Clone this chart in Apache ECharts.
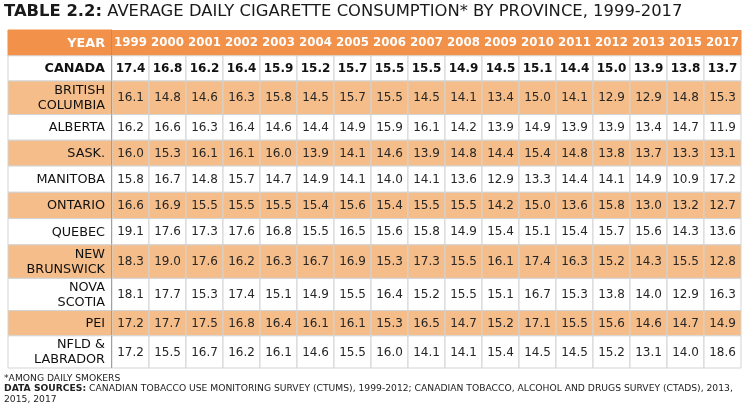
<!DOCTYPE html>
<html><head><meta charset="utf-8">
<script src="https://cdn.jsdelivr.net/npm/echarts@6/dist/echarts.min.js"></script>
<style>html,body{margin:0;padding:0;background:#fff}#c{width:750px;height:406px}</style>
</head><body><div id="c"></div>
<script>
// ---- data ----
const years = ['1999','2000','2001','2002','2003','2004','2005','2006','2007','2008','2009','2010','2011','2012','2013','2015','2017'];
const provinces = ['CANADA','BRITISH\nCOLUMBIA','ALBERTA','SASK.','MANITOBA','ONTARIO','QUEBEC','NEW\nBRUNSWICK','NOVA\nSCOTIA','PEI','NFLD &\nLABRADOR'];
const canada          = [17.4,16.8,16.2,16.4,15.9,15.2,15.7,15.5,15.5,14.9,14.5,15.1,14.4,15.0,13.9,13.8,13.7];
const britishColumbia = [16.1,14.8,14.6,16.3,15.8,14.5,15.7,15.5,14.5,14.1,13.4,15.0,14.1,12.9,12.9,14.8,15.3];
const alberta         = [16.2,16.6,16.3,16.4,14.6,14.4,14.9,15.9,16.1,14.2,13.9,14.9,13.9,13.9,13.4,14.7,11.9];
const saskatchewan    = [16.0,15.3,16.1,16.1,16.0,13.9,14.1,14.6,13.9,14.8,14.4,15.4,14.8,13.8,13.7,13.3,13.1];
const manitoba        = [15.8,16.7,14.8,15.7,14.7,14.9,14.1,14.0,14.1,13.6,12.9,13.3,14.4,14.1,14.9,10.9,17.2];
const ontario         = [16.6,16.9,15.5,15.5,15.5,15.4,15.6,15.4,15.5,15.5,14.2,15.0,13.6,15.8,13.0,13.2,12.7];
const quebec          = [19.1,17.6,17.3,17.6,16.8,15.5,16.5,15.6,15.8,14.9,15.4,15.1,15.4,15.7,15.6,14.3,13.6];
const newBrunswick    = [18.3,19.0,17.6,16.2,16.3,16.7,16.9,15.3,17.3,15.5,16.1,17.4,16.3,15.2,14.3,15.5,12.8];
const novaScotia      = [18.1,17.7,15.3,17.4,15.1,14.9,15.5,16.4,15.2,15.5,15.1,16.7,15.3,13.8,14.0,12.9,16.3];
const pei             = [17.2,17.7,17.5,16.8,16.4,16.1,16.1,15.3,16.5,14.7,15.2,17.1,15.5,15.6,14.6,14.7,14.9];
const nfldLabrador    = [17.2,15.5,16.7,16.2,16.1,14.6,15.5,16.0,14.1,14.1,15.4,14.5,14.5,15.2,13.1,14.0,18.6];
const rowsValues = [canada,britishColumbia,alberta,saskatchewan,manitoba,ontario,quebec,newBrunswick,novaScotia,pei,nfldLabrador];

// ---- layout ----
const rowWeights = [1, 0.98, 1.3, 1, 1, 1.02, 1.02, 1.02, 1.3, 1.25, 0.98, 1.25]; // header + rows
const starts = []; let acc = 0;
rowWeights.forEach(w => { starts.push(acc); acc += w; });
const total = acc;
const FONT = 'DejaVu Sans';
const HEADER = '#F1914A', LIGHT = '#F5BD89', GRID = '#d3d3d3', TXT = '#262626';

const dataItems = [];
rowsValues.forEach((arr, r) => arr.forEach((v, c) => dataItems.push([c, r, v])));
const headerItems = years.map((y, c) => [c, 0]);
const labelItems = [[0, -1]].concat(provinces.map((p, r) => [0, r]));

function rowBox(api, col, row) {
  const top = api.coord([col, starts[row]]);
  const bot = api.coord([col, starts[row] + rowWeights[row]]);
  const w = api.size([1, 0])[0];
  return { cx: top[0], x: top[0] - w / 2, y: top[1], w: w, h: bot[1] - top[1] };
}

function dataCell(params, api) {
  const c = api.value(0), r = api.value(1), v = api.value(2);
  const b = rowBox(api, c, r + 1);
  return { type: 'group', children: [
    { type: 'rect', shape: { x: b.x, y: b.y, width: b.w, height: b.h },
      style: { fill: r % 2 ? LIGHT : '#fff', stroke: GRID, lineWidth: 1 } },
    { type: 'text', style: { text: v.toFixed(1), x: b.cx, y: b.y + b.h / 2 + 0.5, align: 'center', verticalAlign: 'middle',
      fontFamily: FONT, fontSize: 12, fontWeight: r === 0 ? 'bold' : 'normal', fill: r === 0 ? '#111' : TXT } }
  ]};
}

function headerCell(params, api) {
  const c = api.value(0);
  const b = rowBox(api, c, 0);
  return { type: 'group', children: [
    { type: 'rect', shape: { x: b.x - 0.5, y: b.y, width: b.w + 1, height: b.h }, style: { fill: HEADER } },
    { type: 'text', style: { text: years[c], x: b.cx, y: b.y + b.h / 2 + 0.5, align: 'center', verticalAlign: 'middle',
      fontFamily: FONT, fontSize: 11.8, fontWeight: 'bold', fill: '#fff' } }
  ]};
}

function labelCell(params, api) {
  const r = api.value(1);
  const row = r + 1;
  const b = rowBox(api, 0, row);
  const isHeader = r < 0;
  const fill = isHeader ? HEADER : (r % 2 ? LIGHT : '#fff');
  return { type: 'group', children: [
    { type: 'rect', shape: { x: b.x, y: b.y, width: b.w, height: b.h },
      style: { fill: fill, stroke: isHeader ? HEADER : GRID, lineWidth: 1 } },
    { type: 'text', style: { text: isHeader ? 'YEAR' : provinces[r], x: b.x + b.w - 7, y: b.y + b.h / 2 + 0.5,
      align: 'right', verticalAlign: 'middle', lineHeight: 15,
      fontFamily: FONT, fontSize: 12.8, fontWeight: (isHeader || r === 0) ? 'bold' : 'normal',
      fill: isHeader ? '#fff' : '#111' } },
    { type: 'line', shape: { x1: b.x + b.w, y1: b.y, x2: b.x + b.w, y2: b.y + b.h },
      style: { stroke: isHeader ? '#b86a30' : '#444', lineWidth: 1.5 } }
  ]};
}

const chart = echarts.init(document.getElementById('c'));
chart.setOption({
  animation: false,
  backgroundColor: '#fff',
  title: [
    { left: 4, top: 4, padding: 0, text: '{b|TABLE 2.2:} AVERAGE DAILY CIGARETTE CONSUMPTION* BY PROVINCE, 1999-2017',
      textStyle: { fontFamily: FONT, fontSize: 16.4, fontWeight: 'normal', color: '#1a1a1a',
        rich: { b: { fontFamily: FONT, fontSize: 16.4, fontWeight: 'bold', color: '#1a1a1a' } } } },
    { left: 4, top: 373, padding: 0, text: '*AMONG DAILY SMOKERS\n{b|DATA SOURCES:} CANADIAN TOBACCO USE MONITORING SURVEY (CTUMS), 1999-2012; CANADIAN TOBACCO, ALCOHOL AND DRUGS SURVEY (CTADS), 2013,\n2015, 2017',
      textStyle: { fontFamily: FONT, fontSize: 9.2, fontWeight: 'normal', color: '#222', lineHeight: 10.5,
        rich: { b: { fontFamily: FONT, fontSize: 9.2, fontWeight: 'bold', color: '#222', lineHeight: 10.5 } } } }
  ],
  grid: [
    { left: 8, top: 30, width: 104, bottom: 38 },
    { left: 112, top: 30, right: 9, bottom: 38 }
  ],
  xAxis: [
    { gridIndex: 0, type: 'category', data: ['label'], show: false },
    { gridIndex: 1, type: 'category', data: years, show: false }
  ],
  yAxis: [
    { gridIndex: 0, type: 'value', min: 0, max: total, inverse: true, show: false },
    { gridIndex: 1, type: 'value', min: 0, max: total, inverse: true, show: false }
  ],
  series: [
    { type: 'custom', xAxisIndex: 0, yAxisIndex: 0, data: labelItems, renderItem: labelCell, clip: false },
    { type: 'custom', xAxisIndex: 1, yAxisIndex: 1, data: headerItems, renderItem: headerCell, clip: false },
    { type: 'custom', xAxisIndex: 1, yAxisIndex: 1, data: dataItems, renderItem: dataCell, clip: false }
  ]
});
</script></body></html>
